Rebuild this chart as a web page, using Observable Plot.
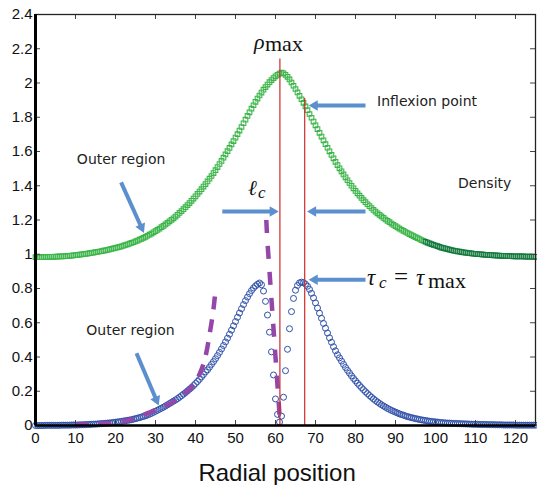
<!DOCTYPE html>
<html><head><meta charset="utf-8">
<script src="https://cdn.jsdelivr.net/npm/d3@7"></script>
<script src="https://cdn.jsdelivr.net/npm/@observablehq/plot@0.6"></script>
<style>body{margin:0;background:#fff} svg{display:block}</style>
</head><body><div id="chart"></div>
<script>
// ---- data ----
const radialPosition = [
0,0.5,1,1.5,2,2.5,3,3.5,4,4.5, 5,5.5,6,6.5,7,7.5,8,8.5,9,9.5,
10,10.5,11,11.5,12,12.5,13,13.5,14,14.5, 15,15.5,16,16.5,17,17.5,18,18.5,19,19.5,
20,20.5,21,21.5,22,22.5,23,23.5,24,24.5, 25,25.5,26,26.5,27,27.5,28,28.5,29,29.5,
30,30.5,31,31.5,32,32.5,33,33.5,34,34.5, 35,35.5,36,36.5,37,37.5,38,38.5,39,39.5,
40,40.5,41,41.5,42,42.5,43,43.5,44,44.5, 45,45.5,46,46.5,47,47.5,48,48.5,49,49.5,
50,50.5,51,51.5,52,52.5,53,53.5,54,54.5, 55,55.5,56,56.5,57,57.5,58,58.5,59,59.5,
60,60.5,61,61.5,62,62.5,63,63.5,64,64.5, 65,65.5,66,66.5,67,67.5,68,68.5,69,69.5,
70,70.5,71,71.5,72,72.5,73,73.5,74,74.5, 75,75.5,76,76.5,77,77.5,78,78.5,79,79.5,
80,80.5,81,81.5,82,82.5,83,83.5,84,84.5, 85,85.5,86,86.5,87,87.5,88,88.5,89,89.5,
90,90.5,91,91.5,92,92.5,93,93.5,94,94.5, 95,95.5,96,96.5,97,97.5,98,98.5,99,99.5,
100,100.5,101,101.5,102,102.5,103,103.5,104,104.5, 105,105.5,106,106.5,107,107.5,108,108.5,109,109.5,
110,110.5,111,111.5,112,112.5,113,113.5,114,114.5, 115,115.5,116,116.5,117,117.5,118,118.5,119,119.5,
120,120.5,121,121.5,122,122.5,123,123.5,124,124.5, 125];

const density = [
0.983,0.983,0.983,0.983,0.984,0.984,0.984,0.985,0.985,0.985,
0.986,0.986,0.987,0.987,0.988,0.989,0.990,0.991,0.992,0.993,
0.995,0.996,0.998,0.999,1.001,1.002,1.004,1.006,1.008,1.010,
1.012,1.014,1.016,1.018,1.021,1.023,1.026,1.028,1.031,1.034,
1.037,1.040,1.043,1.046,1.050,1.054,1.058,1.062,1.066,1.070,
1.075,1.080,1.085,1.090,1.096,1.102,1.108,1.114,1.121,1.128,
1.135,1.142,1.150,1.158,1.166,1.174,1.183,1.192,1.201,1.210,
1.220,1.230,1.241,1.252,1.263,1.275,1.287,1.299,1.312,1.325,
1.338,1.352,1.366,1.380,1.395,1.410,1.425,1.441,1.457,1.474,
1.491,1.509,1.527,1.545,1.564,1.583,1.602,1.621,1.641,1.661,
1.681,1.701,1.722,1.743,1.765,1.786,1.808,1.829,1.850,1.870,
1.890,1.909,1.927,1.944,1.961,1.976,1.991,2.005,2.017,2.029,
2.039,2.048,2.055,2.060,2.057,2.048,2.036,2.021,2.003,1.984,
1.965,1.945,1.925,1.905,1.884,1.863,1.841,1.819,1.797,1.775,
1.753,1.731,1.709,1.687,1.665,1.643,1.622,1.601,1.580,1.560,
1.540,1.521,1.502,1.484,1.466,1.449,1.432,1.416,1.400,1.385,
1.370,1.356,1.342,1.329,1.316,1.304,1.292,1.281,1.270,1.259,
1.249,1.239,1.230,1.221,1.212,1.203,1.195,1.187,1.179,1.171,
1.164,1.157,1.150,1.143,1.137,1.130,1.124,1.118,1.112,1.106,
1.100,1.094,1.089,1.083,1.078,1.073,1.068,1.063,1.059,1.055,
1.051,1.047,1.043,1.039,1.036,1.033,1.030,1.027,1.024,1.021,
1.019,1.017,1.015,1.013,1.011,1.009,1.008,1.006,1.005,1.003,
1.002,1.001,1.000,0.999,0.998,0.997,0.996,0.995,0.995,0.994,
0.993,0.992,0.992,0.991,0.991,0.990,0.990,0.989,0.989,0.988,
0.988,0.988,0.987,0.987,0.987,0.986,0.986,0.986,0.986,0.985,
0.985];

const tau = [
0.000,0.000,0.000,0.000,0.000,0.001,0.001,0.001,0.001,0.001,
0.001,0.001,0.001,0.002,0.002,0.002,0.002,0.002,0.003,0.003,
0.003,0.003,0.004,0.004,0.005,0.005,0.006,0.006,0.007,0.008,
0.008,0.009,0.010,0.011,0.012,0.013,0.014,0.015,0.016,0.018,
0.019,0.021,0.022,0.024,0.026,0.028,0.030,0.032,0.034,0.037,
0.040,0.043,0.046,0.050,0.053,0.057,0.061,0.066,0.071,0.077,
0.083,0.089,0.095,0.101,0.107,0.114,0.121,0.128,0.135,0.142,
0.149,0.157,0.165,0.174,0.183,0.192,0.202,0.212,0.222,0.233,
0.245,0.257,0.270,0.284,0.298,0.313,0.325,0.341,0.357,0.373,
0.390,0.408,0.427,0.447,0.467,0.488,0.510,0.533,0.557,0.582,
0.607,0.632,0.657,0.682,0.706,0.729,0.750,0.770,0.788,0.803,
0.815,0.825,0.832,0.822,0.785,0.725,0.645,0.545,0.430,0.295,
0.155,0.065,0.020,0.055,0.165,0.320,0.445,0.565,0.665,0.742,
0.790,0.818,0.833,0.837,0.834,0.826,0.813,0.795,0.772,0.745,
0.716,0.686,0.656,0.626,0.596,0.568,0.540,0.512,0.486,0.460,
0.436,0.413,0.395,0.376,0.357,0.339,0.322,0.306,0.290,0.275,
0.261,0.247,0.234,0.221,0.209,0.197,0.186,0.175,0.165,0.155,
0.146,0.137,0.129,0.121,0.114,0.107,0.100,0.094,0.088,0.083,
0.078,0.073,0.068,0.064,0.060,0.056,0.052,0.049,0.046,0.043,
0.040,0.038,0.035,0.033,0.031,0.029,0.027,0.025,0.024,0.022,
0.021,0.020,0.018,0.017,0.016,0.015,0.014,0.014,0.013,0.012,
0.012,0.011,0.011,0.010,0.010,0.009,0.009,0.008,0.008,0.007,
0.007,0.007,0.006,0.006,0.006,0.006,0.005,0.005,0.005,0.005,
0.004,0.004,0.004,0.004,0.003,0.003,0.003,0.003,0.003,0.003,
0.002,0.002,0.002,0.002,0.002,0.002,0.002,0.002,0.002,0.002,
0.002];

// outer-region approximation (dashed, left)
const approxLeftX = [10,12,14,16,18,20,22,24,26,28,30,32,34,36,37,38,39,40,41,42,43,43.5,44,44.5,45];
const approxLeftY = [0.005,0.006,0.008,0.010,0.013,0.018,0.025,0.035,0.052,0.072,0.090,0.110,0.132,0.162,0.181,0.200,0.224,0.258,0.300,0.360,0.460,0.530,0.600,0.680,0.790];
// inner approximation (dashed, near the centre)
const approxRightX = [57.7,57.9,58.2,58.5,58.8,59.1,59.4,59.7,60.0,60.3,60.6,60.9,61.1];
const approxRightY = [1.20,1.10,1.00,0.90,0.80,0.70,0.60,0.50,0.40,0.30,0.20,0.10,0.00];

// vertical marker lines (density maximum, inflexion point)
const markerX = [61.1, 67.3];
const markerTop = [2.14, 1.91];

// annotation arrows (tail -> tip)
const arrowX1 = [21.4, 25.25, 46.7, 82.5, 82.5, 82.5];
const arrowY1 = [1.42, 0.422, 1.25, 1.25, 1.869, 0.851];
const arrowX2 = [27.1, 30.8, 60.8, 67.9, 68.3, 68.3];
const arrowY2 = [1.125, 0.117, 1.25, 1.25, 1.869, 0.851];

// plain labels
const labelText = ["Outer region", "Outer region", "Inflexion point", "Density"];
const labelX = [21.4, 23.75, 85.4, 112.3];
const labelY = [1.553, 0.555, 1.892, 1.413];
const labelAnchor = ["middle", "middle", "start", "middle"];

const xTicks = [0,10,20,30,40,50,60,70,80,90,100,110,120];
const yTicks = [0,0.2,0.4,0.6,0.8,1,1.2,1.4,1.6,1.8,2,2.2,2.4];
const xLabel = "Radial position";

// ---- layout ----
const W = 537, H = 485, mL = 35, mR = 2, mT = 14, mB = 60;
const fw = W - mL - mR, fh = H - mT - mB;
const xDomain = [0, 125], yDomain = [0, 2.4];
const kx = fw / (xDomain[1] - xDomain[0]), ky = fh / (yDomain[1] - yDomain[0]);
const tick = 5;

// ---- build tables ----
const pts = radialPosition.map((x, i) => ({x, rho: density[i], tau: tau[i]}));
const leftApprox = approxLeftX.map((x, i) => ({x, y: approxLeftY[i]}));
const rightApprox = approxRightX.map((x, i) => ({x, y: approxRightY[i]}));
const markers = markerX.map((x, i) => ({x, top: markerTop[i]}));
const arrows = arrowX1.map((x1, i) => {
  const x2 = arrowX2[i], y1 = arrowY1[i], y2 = arrowY2[i];
  const dxp = (x2 - x1) * kx, dyp = -(y2 - y1) * ky; // screen direction
  const len = Math.hypot(dxp, dyp), ux = dxp / len, uy = dyp / len;
  const back = (px) => ({x: x2 - ux * px / kx, y: y2 + uy * px / ky});
  const shaftEnd = back(7), head = back(6);
  const rot = Math.atan2(ux, -uy) * 180 / Math.PI;
  return {x1, y1, sx: shaftEnd.x, sy: shaftEnd.y, hx: head.x, hy: head.y, rot};
});
const labels = labelText.map((t, i) => ({t, x: labelX[i], y: labelY[i], a: labelAnchor[i]}));

const arrowColor = "#5b8fcd";
const labelStyle = {x: "x", y: "y", text: "t", lineAnchor: "middle", fontFamily: "'DejaVu Sans', sans-serif", fontSize: 14, fill: "#222"};

const chart = Plot.plot({
  width: W, height: H,
  marginLeft: mL, marginRight: mR, marginTop: mT, marginBottom: mB,
  x: {domain: xDomain},
  y: {domain: yDomain},
  style: {fontFamily: "'Liberation Sans', Arial, sans-serif", fontSize: "15px", background: "#fff", color: "#111"},
  marks: [
    Plot.dot(pts, {x: "x", y: "tau", r: 3, stroke: "#2d4fa8", strokeWidth: 1, fill: "none"}),
    Plot.dot(pts.filter(d => d.x <= 97), {x: "x", y: "rho", symbol: "square", r: 2.6, stroke: "#3cb54a", strokeWidth: 1.1, fill: "none"}),
    Plot.dot(pts.filter(d => d.x > 97), {x: "x", y: "rho", symbol: "square", r: 2.6, stroke: "#137a3d", strokeWidth: 1.1, fill: "none"}),
    Plot.line(leftApprox, {x: "x", y: "y", stroke: "#9447a8", strokeWidth: 4.5, strokeDasharray: "13,10", strokeLinecap: "butt", curve: "monotone-x"}),
    Plot.line(rightApprox, {x: "x", y: "y", stroke: "#9447a8", strokeWidth: 4.5, strokeDasharray: "13,13", strokeLinecap: "butt"}),
    Plot.ruleX(markers, {x: "x", y1: 0, y2: "top", stroke: "#cc2b2b", strokeWidth: 1.2}),
    Plot.link(arrows, {x1: "x1", y1: "y1", x2: "sx", y2: "sy", stroke: arrowColor, strokeWidth: 4, strokeLinecap: "butt"}),
    Plot.dot(arrows, {x: "hx", y: "hy", symbol: "triangle", r: 3.9, rotate: "rot", fill: arrowColor, stroke: "none"}),
    Plot.text(labels.filter(d => d.a === "middle"), {...labelStyle, textAnchor: "middle"}),
    Plot.text(labels.filter(d => d.a === "start"), {...labelStyle, textAnchor: "start"}),
    Plot.text([xLabel], {x: 60.4, frameAnchor: "bottom", dy: 48, lineAnchor: "middle", fontSize: 24, fill: "#111"}),
    // inward ticks on all four sides
    Plot.tickX(xTicks, {x: d => d, insetTop: fh - tick, stroke: "#444"}),
    Plot.tickX(xTicks, {x: d => d, insetBottom: fh - tick, stroke: "#444"}),
    Plot.tickY(yTicks, {y: d => d, insetLeft: fw - tick, stroke: "#444"}),
    Plot.tickY(yTicks, {y: d => d, insetRight: fw - tick, stroke: "#444"}),
    Plot.frame({stroke: "#222", strokeWidth: 1.3}),
    Plot.ruleX([0], {stroke: "#000", strokeWidth: 3}),
    Plot.ruleY([0], {stroke: "#000", strokeWidth: 2.5}),
    Plot.axisX({ticks: xTicks, tickSize: 0, tickPadding: 7, tickFormat: d => String(d), fontSize: 15, label: null}),
    Plot.axisY({ticks: yTicks, tickSize: 0, tickPadding: 3, tickFormat: d => String(+d.toFixed(1)), fontSize: 15, label: null})
  ]
});

// ---- math annotations (LaTeX-like) ----
const mathAnchorX = [54.75, 53.25, 83];
const mathAnchorY = [2.196, 1.343, 0.8175];
const mathParts = [
  [{t: "ρ", dx: 0, dy: 0, s: 22, i: true}, {t: "max", dx: 11, dy: 2, s: 22, i: false}],
  [{t: "ℓ", dx: 0, dy: 0, s: 21, i: true}, {t: "c", dx: 10, dy: 3, s: 17, i: true}],
  [{t: "τ", dx: 0, dy: 0, s: 23, i: true}, {t: "c", dx: 12, dy: 3, s: 17, i: true},
   {t: "=", dx: 27, dy: 0, s: 25, i: false}, {t: "τ", dx: 49, dy: 0, s: 23, i: true},
   {t: "max", dx: 61, dy: 3, s: 22, i: false}]
];
const sx = chart.scale("x"), sy = chart.scale("y");
const svg = d3.select(chart);
mathParts.forEach((parts, k) => {
  const px = sx.apply(mathAnchorX[k]), py = sy.apply(mathAnchorY[k]);
  const t = svg.append("text")
    .attr("text-anchor", "start")
    .attr("font-family", "'Liberation Serif', 'DejaVu Serif', serif")
    .attr("fill", "#111");
  parts.forEach(p => {
    t.append("tspan")
      .attr("x", px + p.dx).attr("y", py + p.dy)
      .attr("font-size", p.s)
      .attr("font-style", p.i ? "italic" : "normal")
      .text(p.t);
  });
});

document.getElementById("chart").appendChild(chart);
</script></body></html>
